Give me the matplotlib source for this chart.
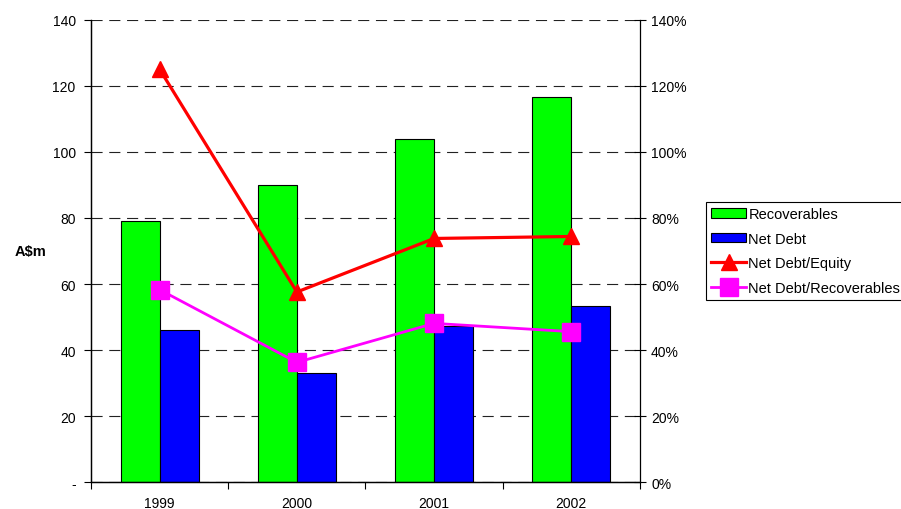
import numpy as np
import matplotlib.pyplot as plt
from matplotlib.ticker import FuncFormatter, FixedLocator

plt.rcParams['font.family'] = ['Liberation Sans', 'DejaVu Sans']

years = ["1999", "2000", "2001", "2002"]
recoverables = [79, 90, 104, 116.7]
net_debt = [46, 33, 47.4, 53.4]
debt_equity = [1.25, 0.576, 0.738, 0.744]
debt_recov = [0.583, 0.363, 0.481, 0.456]

x = np.arange(len(years))
w = 0.285

fig = plt.figure(figsize=(9.01, 5.10), dpi=100)
ax = fig.add_axes([0.101, 0.0523, 0.6093, 0.9071])
ax2 = ax.twinx()

b1 = ax.bar(x - w / 2, recoverables, w, color="#00ff00", edgecolor="black", linewidth=0.8, label="Recoverables")
b2 = ax.bar(x + w / 2, net_debt, w, color="#0000ff", edgecolor="black", linewidth=0.8, label="Net Debt")

l1, = ax2.plot(x, debt_equity, color="#ff0000", lw=2.3, marker="^", markersize=11, label="Net Debt/Equity")
l2, = ax2.plot(x, debt_recov, color="#ff00ff", lw=2.0, marker="s", markersize=12.5, label="Net Debt/Recoverables")

ax.set_xlim(-0.5, 3.5)
ax.set_ylim(0, 140)
ax2.set_ylim(0, 1.4)

ax.set_yticks(np.arange(0, 141, 20))
ax.set_yticklabels(["-"] + [str(v) for v in range(20, 141, 20)], fontsize=10)
ax2.set_yticks(np.arange(0, 1.41, 0.2))
ax2.yaxis.set_major_formatter(FuncFormatter(lambda v, p: "%d%%" % round(v * 100)))
ax2.tick_params(axis="y", labelsize=10, direction="inout", length=9, width=0.8)
ax.tick_params(axis="y", direction="out", length=5, width=0.8, pad=6)

ax.set_xticks(x)
ax.set_xticklabels(years, fontsize=10)
ax.tick_params(axis="x", which="major", length=0, pad=9.5)
ax.xaxis.set_minor_locator(FixedLocator([-0.5, 0.5, 1.5, 2.5, 3.5]))
ax.tick_params(axis="x", which="minor", direction="out", length=5, width=0.8)

ax.set_axisbelow(True)
ax.yaxis.grid(True, color="#222222", linestyle=(0, (10, 6)), linewidth=0.8)
ax.spines["top"].set_visible(False)
ax2.spines["top"].set_visible(False)
ax.spines["right"].set_visible(False)
for a in (ax, ax2):
    for s in a.spines.values():
        s.set_linewidth(0.9)

ax.set_ylabel("A\\$m", fontsize=10.5, fontweight="bold", rotation=0, labelpad=16, va="center")

leg = fig.legend([b1, b2, l1, l2], ["Recoverables", "Net Debt", "Net Debt/Equity", "Net Debt/Recoverables"],
                 loc="upper left", bbox_to_anchor=(706 / 901, 1 - 203 / 510), fontsize=10.5,
                 frameon=True, fancybox=False, edgecolor="black", framealpha=1,
                 handlelength=2.4, handleheight=0.6, handletextpad=0.15, labelspacing=0.72,
                 borderpad=0.35, borderaxespad=0)
leg.get_frame().set_linewidth(0.8)

plt.savefig("out.png", dpi=100)
